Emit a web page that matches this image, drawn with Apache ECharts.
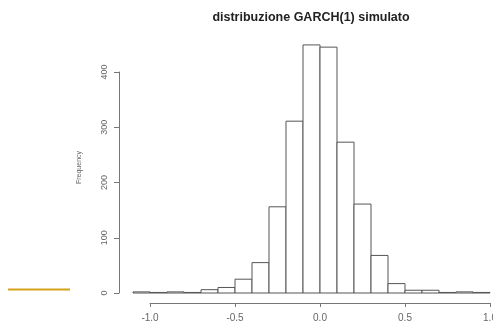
<!DOCTYPE html>
<html>
<head>
<meta charset="utf-8">
<script src="https://cdn.jsdelivr.net/npm/echarts@6/dist/echarts.min.js"></script>
<style>
  html, body { margin: 0; padding: 0; background: #fff; }
  #chart { width: 493px; height: 336px; }
</style>
</head>
<body>
<div id="chart"></div>
<script>
// histogram breaks and counts
const breaks = [-1.1, -1.0, -0.9, -0.8, -0.7, -0.6, -0.5, -0.4, -0.3, -0.2, -0.1,
  0.0, 0.1, 0.2, 0.3, 0.4, 0.5, 0.6, 0.7, 0.8, 0.9, 1.0];
const counts = [2, 1, 2, 1, 6, 10, 25, 55, 156, 311, 449, 445, 273, 161, 68, 17, 5, 5, 1, 2, 1];
const xTicks = [-1.0, -0.5, 0.0, 0.5, 1.0];
const yTicks = [0, 100, 200, 300, 400];

const bins = counts.map((c, i) => [breaks[i], breaks[i + 1], c]);

const chart = echarts.init(document.getElementById('chart'));

const axisGray = '#777';

chart.setOption({
  animation: false,
  title: {
    text: 'distribuzione GARCH(1) simulato',
    left: 306,
    top: 6,
    textAlign: 'center',
    textStyle: { fontFamily: 'Liberation Sans', fontSize: 12.5, fontWeight: 'bold', color: '#222' }
  },
  grid: { left: 150, right: 3, top: 72, bottom: 43, outerBoundsMode: 'none' },
  xAxis: {
    type: 'value',
    min: -1,
    max: 1,
    interval: 0.5,
    offset: 10,
    name: 'x',
    nameLocation: 'middle',
    nameGap: 31,
    nameTextStyle: { fontFamily: 'Liberation Sans', fontSize: 8, color: '#aaa' },
    axisLine: { show: true, onZero: false, lineStyle: { color: axisGray, width: 1 } },
    axisTick: { show: true, length: 4, lineStyle: { color: axisGray } },
    splitLine: { show: false },
    axisLabel: {
      margin: 10,
      fontFamily: 'Liberation Sans',
      fontSize: 10,
      color: '#666',
      showMinLabel: true,
      showMaxLabel: true,
      formatter: (v) => xTicks.includes(v) ? v.toFixed(1) : ''
    }
  },
  yAxis: {
    type: 'value',
    min: 0,
    max: 400,
    interval: 100,
    offset: 31,
    name: 'Frequency',
    nameLocation: 'middle',
    nameRotate: 90,
    nameGap: 36,
    nameTextStyle: { fontFamily: 'Liberation Sans', fontSize: 7, color: '#666', padding: [0, 0, 0, 30] },
    axisLine: { show: true, onZero: false, lineStyle: { color: axisGray, width: 1 } },
    axisTick: { show: true, length: 5, lineStyle: { color: axisGray } },
    splitLine: { show: false },
    axisLabel: {
      rotate: 90,
      margin: 10,
      fontFamily: 'Liberation Sans',
      fontSize: 9,
      color: '#666',
      formatter: (v) => yTicks.includes(v) ? String(v) : ''
    }
  },
  series: [{
    type: 'custom',
    clip: false,
    data: bins,
    renderItem: (params, api) => {
      const p0 = api.coord([api.value(0), 0]);
      const p1 = api.coord([api.value(1), api.value(2)]);
      return {
        type: 'rect',
        shape: { x: p0[0], y: p1[1], width: p1[0] - p0[0], height: p0[1] - p1[1] },
        style: { fill: '#fff', stroke: '#555', lineWidth: 1 }
      };
    }
  }],
  graphic: [{
    type: 'line',
    shape: { x1: 8, y1: 289.5, x2: 70, y2: 289.5 },
    style: { stroke: '#d4a21c', lineWidth: 2 }
  }]
});
</script>
</body>
</html>
